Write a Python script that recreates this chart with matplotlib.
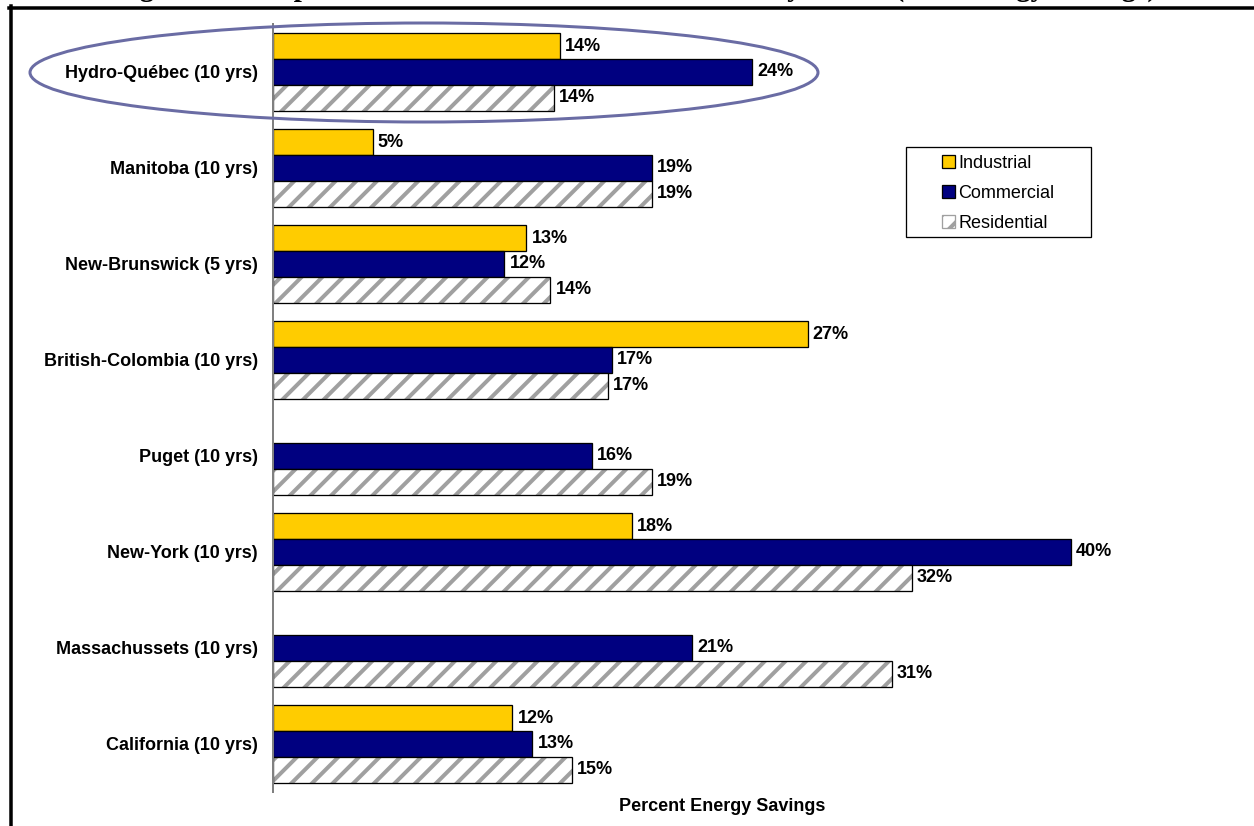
import numpy as np
import matplotlib
matplotlib.use("Agg")
import matplotlib.pyplot as plt
from matplotlib.patches import Ellipse, Rectangle, Patch
from matplotlib.lines import Line2D

utilities = ["Hydro-Québec (10 yrs)", "Manitoba (10 yrs)", "New-Brunswick (5 yrs)",
             "British-Colombia (10 yrs)", "Puget (10 yrs)", "New-York (10 yrs)",
             "Massachussets (10 yrs)", "California (10 yrs)"]
industrial = [14.4, 5.0, 12.7, 26.8, np.nan, 18.0, np.nan, 12.0]
commercial = [24.0, 19.0, 11.6, 17.0, 16.0, 40.0, 21.0, 13.0]
residential = [14.1, 19.0, 13.9, 16.8, 19.0, 32.0, 31.0, 15.0]
series_names = ["Industrial", "Commercial", "Residential"]

DPI = 124
W, H = 1254, 826
def pt(px):
    return px * 72 / DPI

plt.rcParams['font.family'] = ['Liberation Sans', 'DejaVu Sans']
plt.rcParams['hatch.linewidth'] = pt(4.0)
HATCH_GRAY = '#a0a0a0'

fig = plt.figure(figsize=(W / DPI, H / DPI), dpi=DPI)
ax = fig.add_axes([273 / W, 1 - 792 / H, (1171 - 273) / W, (792 - 24) / H])

y = np.arange(len(utilities))
h = 0.268
fs = pt(18)
lw = pt(1.3)

for k, vals in enumerate([industrial, commercial, residential]):
    pos = y + (k - 1) * h
    if k == 0:
        ax.barh(pos, vals, height=h, color='#FFCC00', edgecolor='black', linewidth=lw)
    elif k == 1:
        ax.barh(pos, vals, height=h, color='#000080', edgecolor='black', linewidth=lw)
    else:
        # gray hatch, then black outline on top
        ax.barh(pos, vals, height=h, color='white', edgecolor=HATCH_GRAY, hatch='//', linewidth=0)
        ax.barh(pos, vals, height=h, fill=False, edgecolor='black', linewidth=lw)
    for p, v in zip(pos, vals):
        if np.isnan(v):
            continue
        ax.annotate(f"{v:.0f}%", (v, p), xytext=(pt(5), 0), textcoords='offset points',
                    va='center', ha='left', fontsize=fs, fontweight='bold')

ax.set_xlim(0, 45)
ax.set_ylim(len(utilities) - 0.5, -0.5)
ax.set_yticks(y)
ax.set_yticklabels(utilities, fontsize=fs, fontweight='bold')
ax.tick_params(axis='y', length=0, pad=pt(15))
ax.set_xticks([])
ax.set_xlabel("Percent Energy Savings", fontsize=fs, fontweight='bold', labelpad=pt(6))
for s in ['top', 'right', 'bottom']:
    ax.spines[s].set_visible(False)
ax.spines['left'].set_color('#808080')
ax.spines['left'].set_linewidth(pt(2))

# legend box
fig.patches.append(Rectangle((906 / W, 1 - 237 / H), (1091 - 906) / W, 90 / H,
                             transform=fig.transFigure, facecolor='white',
                             edgecolor='black', linewidth=lw))
handles = [Patch(facecolor='#FFCC00', edgecolor='black', linewidth=lw),
           Patch(facecolor='#000080', edgecolor='black', linewidth=lw),
           Patch(facecolor='white', edgecolor=HATCH_GRAY, hatch='//', linewidth=lw)]
fig.legend(handles, series_names, loc='upper left', bbox_to_anchor=(942 / W, 1 - 155 / H),
           frameon=False, fontsize=fs, handlelength=0.7, handleheight=0.7,
           handletextpad=0.2, labelspacing=0.72, borderpad=0, borderaxespad=0)

# highlight ellipse around Hydro-Québec
fig.patches.append(Ellipse((424 / W, 1 - 72.5 / H), 788 / W, 99 / H,
                           transform=fig.transFigure, fill=False,
                           edgecolor='#6a6ca4', linewidth=pt(3), zorder=5))

# frame lines
fig.add_artist(Line2D([9 / W, 1], [1 - 7.5 / H, 1 - 7.5 / H], color='black',
                      linewidth=pt(3.5), transform=fig.transFigure))
fig.add_artist(Line2D([11 / W, 11 / W], [0, 1 - 6 / H], color='black',
                      linewidth=pt(3.5), transform=fig.transFigure))

# title, cut off at the top of the picture
fig.text(636 / W, 1 + 4 / H,
         "Figure 2: Comparison of Economic Potential Studies by Sector (Technology Savings)",
         ha='center', va='baseline', fontsize=pt(29), fontweight='bold',
         family='Liberation Serif')

fig.savefig("out.png", dpi=DPI)
